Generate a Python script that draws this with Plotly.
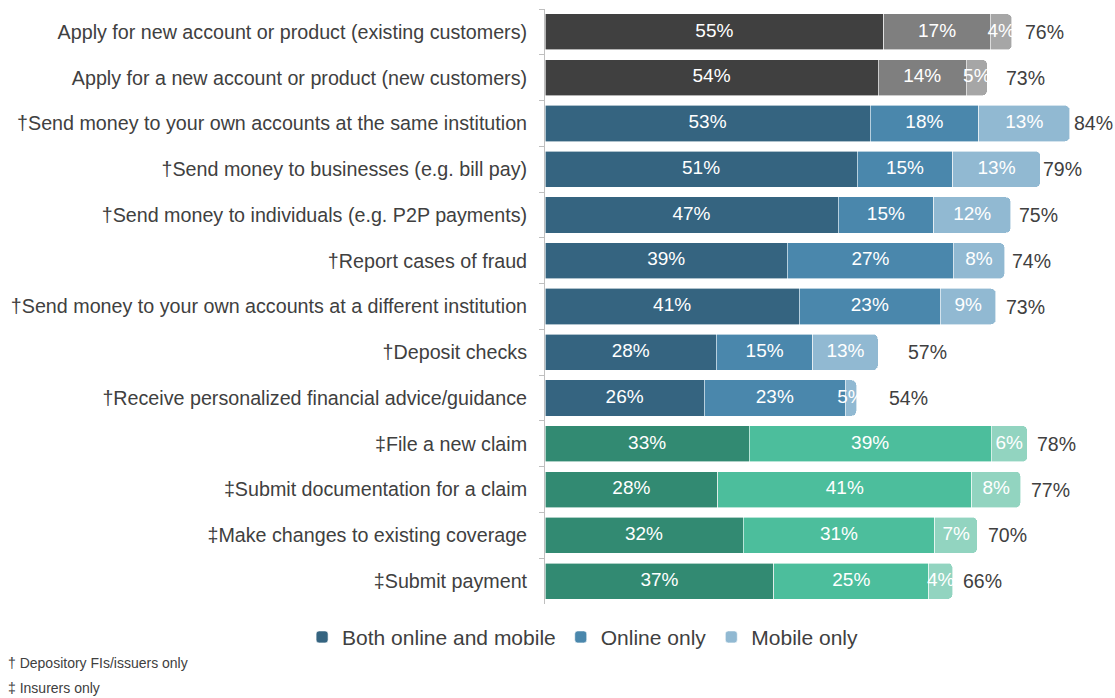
import plotly.graph_objects as go

categories = [
    "Apply for new account or product (existing customers)",
    "Apply for a new account or product (new customers)",
    "†Send money to your own accounts at the same institution",
    "†Send money to businesses (e.g. bill pay)",
    "†Send money to individuals (e.g. P2P payments)",
    "†Report cases of fraud",
    "†Send money to your own accounts at a different institution",
    "†Deposit checks",
    "†Receive personalized financial advice/guidance",
    "‡File a new claim",
    "‡Submit documentation for a claim",
    "‡Make changes to existing coverage",
    "‡Submit payment",
]
group = ["apply"] * 2 + ["bank"] * 7 + ["insure"] * 4

# bar lengths as drawn
both_online_mobile = [54.9, 54.0, 52.7, 50.6, 47.5, 39.3, 41.2, 27.8, 25.8, 33.1, 28.0, 32.1, 37.1]
online_only = [17.3, 14.3, 17.6, 15.5, 15.5, 26.9, 22.9, 15.6, 22.9, 39.2, 41.2, 31.1, 25.1]
mobile_only = [3.5, 3.4, 14.8, 14.2, 12.5, 8.3, 9.0, 10.6, 1.8, 5.9, 7.9, 6.9, 3.9]

# printed labels
both_labels = [55, 54, 53, 51, 47, 39, 41, 28, 26, 33, 28, 32, 37]
online_labels = [17, 14, 18, 15, 15, 27, 23, 15, 23, 39, 41, 31, 25]
mobile_labels = [4, 5, 13, 13, 12, 8, 9, 13, 5, 6, 8, 7, 4]
totals = [76, 73, 84, 79, 75, 74, 73, 57, 54, 78, 77, 70, 66]

segments = ["Both online and mobile", "Online only", "Mobile only"]
colors = {
    "apply": ["#404040", "#7f7f7f", "#a6a6a6"],
    "bank": ["#356480", "#4a87ac", "#91b9d2"],
    "insure": ["#328a72", "#4cbe9c", "#92d4c0"],
}

FONT = "Liberation Sans, Arial, sans-serif"
TXT = "#404040"

fig = go.Figure()
seg_values = [both_online_mobile, online_only, mobile_only]
seg_labels = [both_labels, online_labels, mobile_labels]
for g in ["apply", "bank", "insure"]:
    idx = [i for i, gg in enumerate(group) if gg == g]
    for s in range(3):
        fig.add_trace(go.Bar(
            y=[categories[i] for i in idx],
            x=[seg_values[s][i] for i in idx],
            orientation="h",
            name=segments[s],
            legendgroup=segments[s],
            showlegend=(g == "bank"),
            marker=dict(color=colors[g][s], line=dict(color="white", width=0.6)),
            hoverinfo="skip",
        ))

# segment labels centred on each segment
for s in range(3):
    base = [sum(seg_values[k][i] for k in range(s)) for i in range(len(categories))]
    fig.add_trace(go.Scatter(
        y=categories,
        x=[b + v / 2 for b, v in zip(base, seg_values[s])],
        text=[f"{l}%" for l in seg_labels[s]],
        mode="text",
        textposition="middle center",
        textfont=dict(color="white", size=19, family=FONT),
        showlegend=False,
        hoverinfo="skip",
        cliponaxis=False,
    ))

for cat, tot in zip(categories, totals):
    fig.add_annotation(x=tot, y=cat, text=f"{tot}%", showarrow=False,
                       xanchor="left", xshift=9,
                       font=dict(size=19.5, color=TXT, family=FONT))

fig.add_annotation(x=-0.9456, y=-0.099, xref="paper", yref="paper", text="† Depository FIs/issuers only",
                   showarrow=False, xanchor="left", yanchor="middle", font=dict(size=14, color=TXT, family=FONT))
fig.add_annotation(x=-0.9456, y=-0.141, xref="paper", yref="paper", text="‡ Insurers only",
                   showarrow=False, xanchor="left", yanchor="middle", font=dict(size=14, color=TXT, family=FONT))

fig.update_layout(
    width=1115, height=698,
    barmode="stack", bargap=0.21, barcornerradius=5,
    plot_bgcolor="white", paper_bgcolor="white",
    margin=dict(l=545, r=0, t=9, b=94),
    font=dict(family=FONT, color=TXT),
    legend=dict(orientation="h", xref="container", yref="container", x=0.5225, y=0.087,
                xanchor="center", yanchor="middle", font=dict(size=21, color=TXT),
                traceorder="normal"),
    xaxis=dict(range=[0, 92.4], showgrid=False, zeroline=False, showticklabels=False, showline=False),
    yaxis=dict(categoryorder="array", categoryarray=categories, range=[len(categories) - 0.5, -0.5],
               showline=True, linecolor="#bfbfbf", linewidth=1, ticks="outside", tickson="boundaries",
               ticklen=5, tickcolor="#bfbfbf", tickfont=dict(size=19.7, color=TXT, family=FONT),
               showgrid=False, ticklabelstandoff=13, automargin=False),
)

fig.write_html("out.html", config={"displayModeBar": False},
               post_script="document.body.style.margin='0';")
